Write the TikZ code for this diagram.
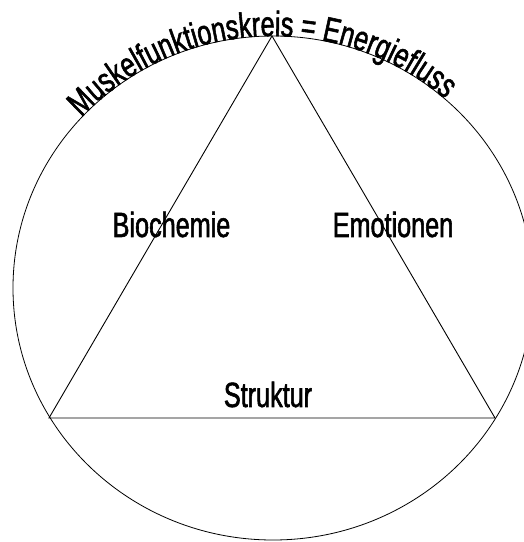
\documentclass[tikz,border=0pt]{standalone}
\usepackage{fontspec}
\newfontfamily\narrowfont[FakeStretch=0.72,FakeBold=1.6]{Liberation Sans}
\usetikzlibrary{decorations.text}
\tikzset{
  outline/.style={line width=0.8pt, black},
  tri/.style={line width=0.9pt, black},
  lab/.style={font=\narrowfont\fontsize{35}{35}\selectfont, anchor=base, inner sep=0pt},
}
\begin{document}
\begin{tikzpicture}[x=1pt,y=1pt]
\useasboundingbox (0,0) rectangle (524,542);
\coordinate (c) at (273,254);
\begin{scope}
  \clip (0,0) rectangle (524,542);
  \draw[outline] (c) ellipse[x radius=260, y radius=252];
\end{scope}
\coordinate (apex) at (272,506);
\coordinate (bl) at (49,124);
\coordinate (br) at (495,124);
\draw[tri] (apex) -- (bl) -- (br) -- cycle;
\node[lab] (bio) at (171.5,305) {Biochemie};
\node[lab] (emo) at (393,305) {Emotionen};
\node[lab] (str) at (268,135) {Struktur};
\path[decorate, decoration={text along path, text align=center,
  text={|\narrowfont\fontsize{35}{35}\selectfont|Muskelfunktionskreis = Energiefluss}}]
  (c) ++(150:260 and 252) arc[start angle=150, end angle=36, x radius=260, y radius=252];
\end{tikzpicture}
\end{document}
